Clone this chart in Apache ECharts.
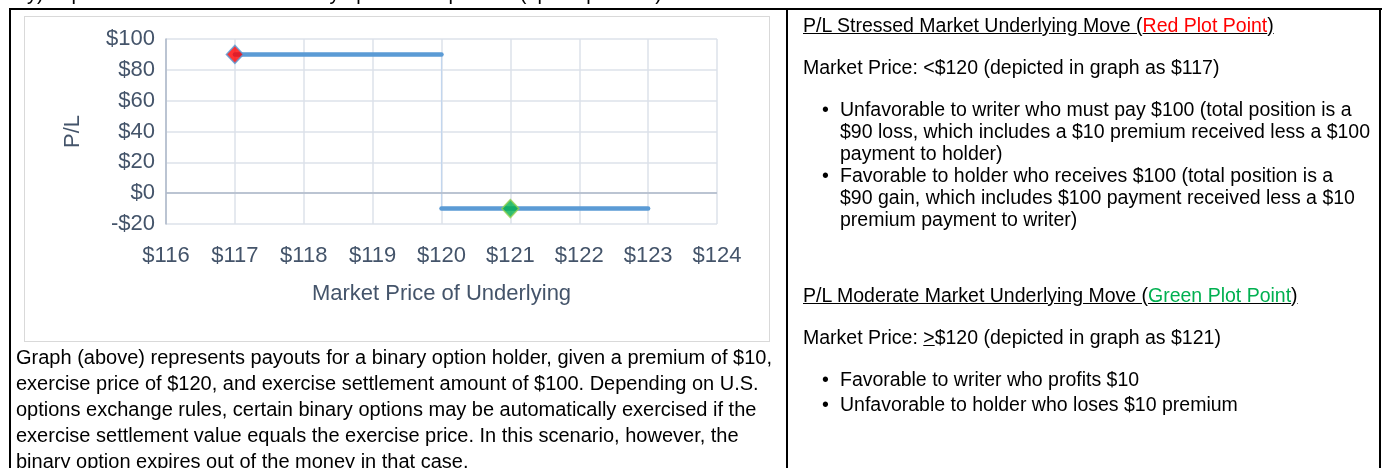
<!DOCTYPE html>
<html>
<head>
<meta charset="utf-8">
<script src="https://cdn.jsdelivr.net/npm/echarts@6/dist/echarts.min.js"></script>
<style>
  html, body { margin:0; padding:0; background:#fff; width:1385px; height:468px; overflow:hidden; }
  body { position:relative; font-family:"Liberation Sans",Arial,sans-serif; color:#000; }
  #chart { position:absolute; left:0; top:0; width:1385px; height:468px; }
  .line { position:absolute; background:#000; }
  .frame { position:absolute; left:24px; top:16px; width:746px; height:326px; border:1px solid #D9D9D9; box-sizing:border-box; }
  .txt { position:absolute; white-space:nowrap; font-size:20px; line-height:22px; }
  .r { font-size:19.5px; }
  .u { text-decoration:underline; }
  .bul { position:absolute; left:-18px; }
</style>
</head>
<body>
<div class="frame"></div>
<div id="chart"></div>
<div class="txt" style="left:16px; top:-18px;">by) Impact on the value of the binary option at expiration (option position)</div>
<div class="line" style="left:9px; top:8px; width:1373px; height:2px;"></div>
<div class="line" style="left:9px; top:8px; width:2px; height:470px;"></div>
<div class="line" style="left:786px; top:8px; width:2px; height:470px;"></div>
<div class="line" style="left:1379px; top:8px; width:2px; height:470px;"></div>

<div class="txt" style="left:16px; top:344px; line-height:26px;">
Graph (above) represents payouts for a binary option holder, given a premium of $10,<br>
exercise price of $120, and exercise settlement amount of $100. Depending on U.S.<br>
options exchange rules, certain binary options may be automatically exercised if the<br>
exercise settlement value equals the exercise price. In this scenario, however, the<br>
binary option expires out of the money in that case.
</div>

<div class="txt r" style="left:803px; top:14px;"><span class="u">P/L Stressed Market Underlying Move (<span style="color:#FF0000">Red Plot Point</span>)</span></div>
<div class="txt r" style="left:803px; top:56px;">Market Price: &lt;$120 (depicted in graph as $117)</div>
<div class="txt r" style="left:840px; top:98px;"><span class="bul">•</span>Unfavorable to writer who must pay $100 (total position is a<br>$90 loss, which includes a $10 premium received less a $100<br>payment to holder)</div>
<div class="txt r" style="left:840px; top:164px;"><span class="bul">•</span>Favorable to holder who receives $100 (total position is a<br>$90 gain, which includes $100 payment received less a $10<br>premium payment to writer)</div>
<div class="txt r" style="left:803px; top:284px;"><span class="u">P/L Moderate Market Underlying Move (<span style="color:#00B050">Green Plot Point</span>)</span></div>
<div class="txt r" style="left:803px; top:326px;">Market Price: <span class="u">&gt;</span>$120 (depicted in graph as $121)</div>
<div class="txt r" style="left:840px; top:368px;"><span class="bul">•</span>Favorable to writer who profits $10</div>
<div class="txt r" style="left:840px; top:393px;"><span class="bul">•</span>Unfavorable to holder who loses $10 premium</div>

<script>
// ---- data ----
const xTicks = [116, 117, 118, 119, 120, 121, 122, 123, 124];
const yTicks = [-20, 0, 20, 40, 60, 80, 100];
const upperLeg = [[117, 90], [120, 90]];
const lowerLeg = [[120, -10], [123, -10]];
const jumpLeg = [[120, 90], [120, -10]];
const redPoint = [[117, 90]];
const greenPoint = [[121, -10]];
const xTitle = 'Market Price of Underlying';
const yTitle = 'P/L';

const fmt = v => (v < 0 ? '-$' + Math.abs(v) : '$' + v);
const labelColor = '#44546A';
const fontFam = '"Liberation Sans",Arial,sans-serif';

const chart = echarts.init(document.getElementById('chart'), null, { renderer: 'canvas' });
chart.setOption({
  animation: false,
  grid: { left: 166, top: 39, width: 551, height: 185 },
  xAxis: {
    type: 'value', min: xTicks[0], max: xTicks[xTicks.length - 1], interval: 1,
    name: xTitle, nameLocation: 'middle', nameGap: 59,
    nameTextStyle: { color: labelColor, fontSize: 22, fontFamily: fontFam },
    axisLine: { show: false, onZero: false },
    axisTick: { show: false },
    axisLabel: { color: labelColor, fontSize: 22, fontFamily: fontFam, margin: 21, formatter: fmt },
    splitLine: { show: true, lineStyle: { color: '#DDE2EA', width: 1.5 } }
  },
  yAxis: {
    type: 'value', min: yTicks[0], max: yTicks[yTicks.length - 1], interval: 20,
    name: yTitle, nameLocation: 'middle', nameGap: 82,
    nameTextStyle: { color: labelColor, fontSize: 22, fontFamily: fontFam },
    axisLine: { show: true, lineStyle: { color: '#AEB8C8', width: 1.5 } },
    axisTick: { show: false },
    axisLabel: { color: labelColor, fontSize: 22, fontFamily: fontFam, margin: 11, formatter: fmt },
    splitLine: { show: true, lineStyle: { color: '#DDE2EA', width: 1.5 } }
  },
  series: [
    {
      type: 'line', data: jumpLeg, symbol: 'none', silent: true, z: 2,
      lineStyle: { color: '#C2D6EE', width: 1.2 },
      markLine: {
        silent: true, symbol: 'none', label: { show: false },
        lineStyle: { color: '#AEB8C8', width: 1.5, type: 'solid' },
        data: [{ yAxis: 0 }]
      }
    },
    { type: 'line', data: upperLeg, symbol: 'none', z: 3, lineStyle: { color: '#5B9BD5', width: 4.5, cap: 'round' } },
    { type: 'line', data: lowerLeg, symbol: 'none', z: 3, lineStyle: { color: '#5B9BD5', width: 4.5, cap: 'round' } },
    {
      type: 'scatter', data: redPoint, symbol: 'diamond', symbolSize: [17, 18], z: 4,
      itemStyle: { color: '#FF0000', borderColor: '#5B9BD5', borderWidth: 1.5 }
    },
    {
      type: 'scatter', data: greenPoint, symbol: 'diamond', symbolSize: [17, 18], z: 4,
      itemStyle: { color: '#00B050', borderColor: '#92D050', borderWidth: 1.5 }
    }
  ]
});
</script>
</body>
</html>
